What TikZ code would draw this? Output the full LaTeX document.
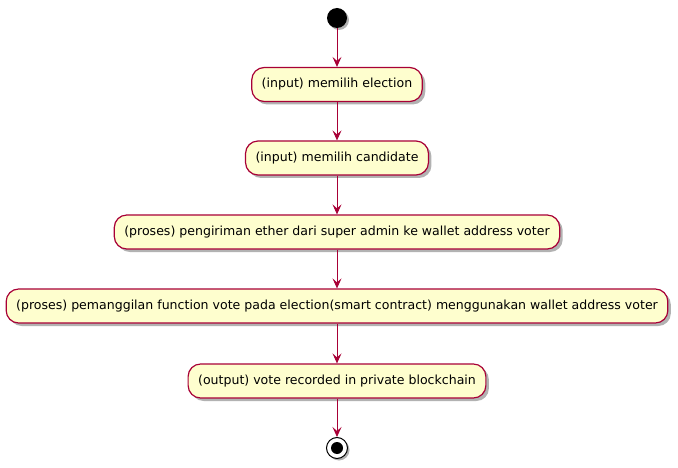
\documentclass[tikz,border=0pt]{standalone}
\usepackage{fontspec}
\setmainfont{DejaVu Sans}
\usetikzlibrary{arrows.meta,shadows}
\definecolor{pred}{HTML}{A80036}
\definecolor{pfill}{HTML}{FEFECE}
\begin{document}
\begin{tikzpicture}[x=1pt,y=-1pt,
  act/.style={draw=pred, line width=1.2pt, fill=pfill, rounded corners=12.5pt,
    minimum height=34pt, inner xsep=10pt, font=\fontsize{12.55}{14}\selectfont,
    drop shadow={shadow xshift=3pt, shadow yshift=-3pt, opacity=0.3, fill=black}},
  conn/.style={draw=pred, line width=0.9pt, -{Stealth[length=10pt,width=9pt,inset=4pt]}},
  startnode/.style={circle, fill=black, minimum size=20pt, inner sep=0pt,
    drop shadow={shadow xshift=2pt, shadow yshift=-2pt, opacity=0.3, fill=black}},
  endnode/.style={circle, draw=black, line width=1pt, fill=white, minimum size=21pt, inner sep=0pt,
    drop shadow={shadow xshift=2pt, shadow yshift=-2pt, opacity=0.3, fill=black}}
]
\useasboundingbox (0,0) rectangle (678,468);
\node[startnode] (s) at (337,18) {};
\node[act] (a1) at (337,84.5) {(input) memilih election};
\node[act] (a2) at (337,158) {(input) memilih candidate};
\node[act] (a3) at (337,232) {(proses) pengiriman ether dari super admin ke wallet address voter};
\node[act] (a4) at (337,306) {(proses) pemanggilan function vote pada election(smart contract) menggunakan wallet address voter};
\node[act] (a5) at (337,381) {(output) vote recorded in private blockchain};
\node[endnode] (e) at (337,448) {};
\fill[black] (e.center) circle (6pt);
\draw[conn] (s) -- (a1);
\draw[conn] (a1) -- (a2);
\draw[conn] (a2) -- (a3);
\draw[conn] (a3) -- (a4);
\draw[conn] (a4) -- (a5);
\draw[conn] (a5) -- (e);
\end{tikzpicture}
\end{document}
